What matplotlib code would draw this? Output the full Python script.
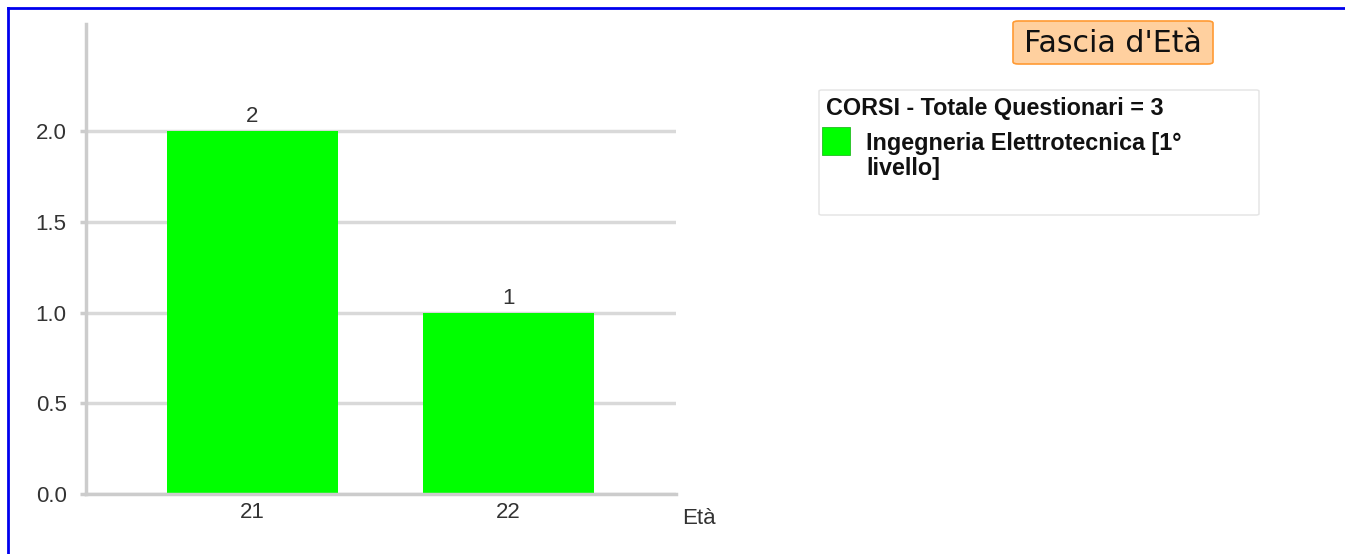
import matplotlib.pyplot as plt
from matplotlib.patches import FancyBboxPatch, Rectangle
from matplotlib.lines import Line2D

plt.rcParams['font.family'] = ['Liberation Sans', 'DejaVu Sans']

# dati
eta = ['21', '22']
conteggi = [2, 1]
corso = 'Ingegneria Elettrotecnica [1°\nlivello]'
totale = 3
titolo = "Fascia d'Età"

W, H = 1345, 554
fig = plt.figure(figsize=(W / 100, H / 100), dpi=100)

def fx(x):
    return x / W

def fy(y):
    return 1 - y / H

# cornice blu
fig.add_artist(Line2D([fx(8), 1.0], [fy(8), fy(8)], color='#0000ee', lw=2))
fig.add_artist(Line2D([fx(8), fx(8)], [fy(8), 0.0], color='#0000ee', lw=2))

# grafico a barre
ax = fig.add_axes([fx(86), fy(494), fx(676) - fx(86), fy(24) - fy(494)])
x = list(range(len(eta)))
bars = ax.bar(x, conteggi, width=0.668, color='#00ff00', zorder=3)
ax.set_xlim(-0.65, 1.654)
ax.set_ylim(0, 2.59)
ax.set_yticks([0, 0.5, 1.0, 1.5, 2.0])
ax.set_yticklabels(['0.0', '0.5', '1.0', '1.5', '2.0'])
ax.set_xticks(x)
ax.set_xticklabels(eta)
ax.tick_params(axis='y', length=4, color='#cccccc', width=2.5, labelsize=16,
               labelcolor='#333333', pad=10)
ax.tick_params(axis='x', length=0, labelsize=16, labelcolor='#333333', pad=6)
ax.yaxis.grid(True, color='#d9d9d9', lw=2.5, zorder=0)
for s in ['top', 'right']:
    ax.spines[s].set_visible(False)
for s in ['left', 'bottom']:
    ax.spines[s].set_color('#cccccc')
    ax.spines[s].set_linewidth(2.5)
ax.spines['bottom'].set_zorder(4)

for xi, v in zip(x, conteggi):
    ax.text(xi, v + 0.02, str(v), ha='center', va='bottom', fontsize=16, color='#333333')

fig.text(fx(682), fy(518), 'Età', ha='left', va='center', fontsize=16, color='#333333')

# titolo
fig.add_artist(FancyBboxPatch((fx(1013), fy(64)), fx(1213) - fx(1013), fy(21) - fy(64),
                              boxstyle='round,pad=0,rounding_size=0.004',
                              facecolor='#ffd09f', edgecolor='#ff9a33', lw=1.2,
                              transform=fig.transFigure))
fig.text(fx(1113), fy(43), titolo, ha='center', va='center', fontsize=21.6,
         family='DejaVu Sans', color='#111111')

# legenda
fig.add_artist(FancyBboxPatch((fx(819), fy(215)), fx(1259) - fx(819), fy(90) - fy(215),
                              boxstyle='round,pad=0,rounding_size=0.002',
                              facecolor='white', edgecolor='#e3e3e3', lw=1,
                              transform=fig.transFigure))
fig.text(fx(826), fy(109), f'CORSI - Totale Questionari = {totale}', ha='left',
         va='center', fontsize=16.8, fontweight='bold', color='#111111')
fig.add_artist(Rectangle((fx(822), fy(155)), fx(850) - fx(822), fy(127) - fy(155),
                         facecolor='#00ff00', edgecolor='#22bb22', lw=0.6,
                         transform=fig.transFigure))
fig.text(fx(866), fy(132), corso, ha='left', va='top', fontsize=16.8,
         fontweight='bold', color='#111111', linespacing=1.12)

fig.savefig('out.png', dpi=100)
